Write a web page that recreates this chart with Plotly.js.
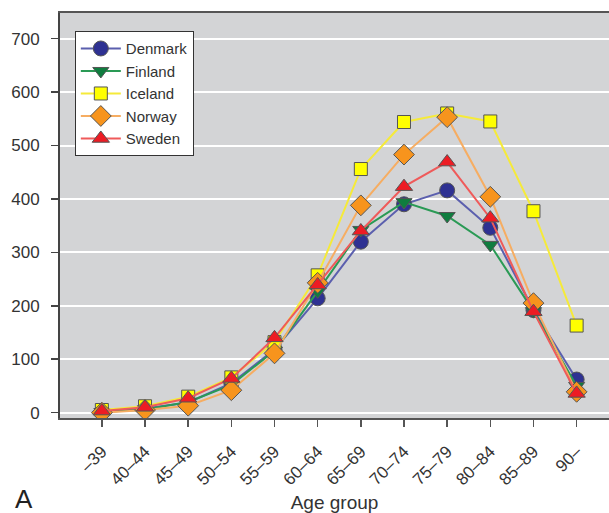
<!DOCTYPE html>
<html><head><meta charset="utf-8">
<script src="https://cdn.plot.ly/plotly-3.0.1.min.js"></script>
<style>html,body{margin:0;padding:0;background:#fff}#c{width:609px;height:513px}</style>
</head><body><div id="c"></div>
<script>
const ageGroups = ["–39","40–44","45–49","50–54","55–59","60–64","65–69","70–74","75–79","80–84","85–89","90–"];
const denmark = [2, 8, 19, 55, 118, 214, 320, 390, 416, 346, 192, 62];
const finland = [1, 6, 20, 52, 116, 227, 342, 394, 368, 314, 190, 50];
const iceland = [5, 12, 30, 66, 132, 257, 456, 544, 560, 545, 377, 163];
const norway  = [0, 5, 13, 42, 111, 243, 388, 483, 553, 404, 205, 39];
const sweden  = [3, 10, 27, 64, 140, 239, 340, 423, 469, 364, 189, 36];

const series = [
  {name:"Denmark", y:denmark, line:"#5b5fae", fill:"#2e3192", symbol:"circle", size:15},
  {name:"Finland", y:finland, line:"#2a9a55", fill:"#0f7d3f", symbol:"triangle-down", size:14},
  {name:"Iceland", y:iceland, line:"#f5ea3a", fill:"#ffff00", symbol:"square", size:13},
  {name:"Norway",  y:norway,  line:"#f6ad62", fill:"#f7941d", symbol:"diamond", size:16},
  {name:"Sweden",  y:sweden,  line:"#ef5a5a", fill:"#ed1c24", symbol:"triangle-up", size:15}
];

const traces = series.map(s => ({
  type:"scatter", mode:"lines+markers", name:s.name,
  x: ageGroups, y: s.y,
  line:{color:s.line, width:2},
  marker:{symbol:s.symbol, size:s.size, color:s.fill, line:{color:"#555", width:1}}
}));

const font = {family:"Liberation Sans, Arial, sans-serif", color:"#333"};
const layout = {
  width:609, height:513,
  margin:{l:60, r:0, t:13, b:95},
  paper_bgcolor:"#ffffff", plot_bgcolor:"#d3d4d6",
  font: font,
  showlegend:true,
  legend:{x:0.027, y:0.955, xanchor:"left", yanchor:"top", bgcolor:"#ffffff",
          bordercolor:"#333", borderwidth:1, itemwidth:40,
          font:{family:font.family, size:15, color:"#333"},
          tracegroupgap:0},
  xaxis:{type:"category", range:[-0.97, 11.75], showgrid:false, zeroline:false,
         showline:true, linecolor:"#555", linewidth:2, mirror:true,
         ticks:"outside", ticklen:7, tickcolor:"#555", tickwidth:1.5,
         ticklabelstandoff:8,
         tickangle:-45, tickfont:{family:font.family, size:17, color:"#333"},
         title:{text:"Age group", font:{family:font.family, size:19, color:"#333"}, standoff:8}},
  yaxis:{range:[-10, 748], tickvals:[0,100,200,300,400,500,600,700],
         showgrid:true, gridcolor:"#ffffff", gridwidth:2, zeroline:false,
         showline:true, linecolor:"#444", linewidth:2,
         ticks:"outside", ticklen:7, tickcolor:"#444", tickwidth:1.5,
         ticklabelstandoff:8,
         tickfont:{family:font.family, size:17, color:"#333"}},
  annotations:[{text:"A", xref:"paper", yref:"paper", x:-0.085, y:-0.2, xanchor:"left", yanchor:"middle",
                showarrow:false, font:{family:font.family, size:26, color:"#222"}}]
};
Plotly.newPlot("c", traces, layout, {displayModeBar:false, staticPlot:true});
</script></body></html>
